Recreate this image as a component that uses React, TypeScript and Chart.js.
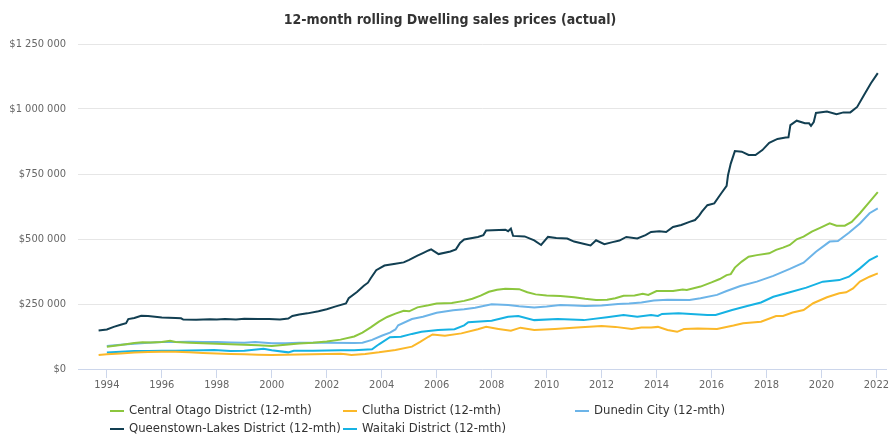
import React, { useEffect, useRef } from "react";
import { Chart, registerables } from "chart.js";

Chart.register(...registerables);

const FONT = '"Liberation Sans Narrow", "DejaVu Sans Condensed", Arial, sans-serif';

const chartTitle = "12-month rolling Dwelling sales prices (actual)";

const seriesNames = [
  "Central Otago District (12-mth)",
  "Clutha District (12-mth)",
  "Dunedin City (12-mth)",
  "Queenstown-Lakes District (12-mth)",
  "Waitaki District (12-mth)",
];
const seriesColors = ["#8cc63e", "#fbb829", "#6cb4e8", "#123f52", "#16b2e3"];

const xTickYears = [1994, 1996, 1998, 2000, 2002, 2004, 2006, 2008, 2010, 2012, 2014, 2016, 2018, 2020, 2022];
const yTickValues = [0, 250000, 500000, 750000, 1000000, 1250000];

const centralOtago: [number, number][] = [
  [1994.0, 86000], [1994.5, 92000], [1995.0, 100000], [1995.3, 103000], [1995.6, 102000], [1996.0, 104000],
  [1996.3, 109000], [1996.5, 104000], [1997.0, 101000], [1997.5, 99000], [1998.0, 97000], [1998.5, 95000],
  [1999.0, 93000], [1999.5, 91000], [2000.0, 88000], [2000.5, 93000], [2001.0, 98000], [2001.5, 101000],
  [2002.0, 106000], [2002.5, 113000], [2003.0, 125000], [2003.3, 140000], [2003.6, 160000], [2003.9, 182000],
  [2004.2, 200000], [2004.5, 213000], [2004.8, 224000], [2005.0, 222000], [2005.3, 237000], [2005.7, 245000],
  [2006.0, 252000], [2006.55, 254000], [2007.0, 262000], [2007.3, 270000], [2007.6, 282000], [2007.9, 297000],
  [2008.2, 305000], [2008.5, 309000], [2009.0, 307000], [2009.3, 295000], [2009.6, 287000], [2010.0, 283000],
  [2010.5, 281000], [2011.0, 276000], [2011.4, 270000], [2011.8, 265000], [2012.2, 266000], [2012.5, 272000],
  [2012.8, 282000], [2013.2, 283000], [2013.5, 289000], [2013.7, 285000], [2014.0, 300000], [2014.6, 300000],
  [2014.95, 306000], [2015.1, 304000], [2015.6, 317000], [2016.0, 333000], [2016.3, 346000], [2016.55, 361000],
  [2016.7, 365000], [2016.85, 390000], [2017.1, 413000], [2017.35, 432000], [2017.65, 438000], [2018.1, 445000],
  [2018.35, 458000], [2018.6, 467000], [2018.85, 477000], [2019.1, 499000], [2019.35, 509000], [2019.65, 528000],
  [2019.95, 543000], [2020.3, 560000], [2020.55, 551000], [2020.85, 551000], [2021.1, 566000], [2021.4, 599000],
  [2021.75, 643000], [2022.05, 680000],
];

const clutha: [number, number][] = [
  [1993.7, 54000], [1994.0, 57000], [1994.5, 60000], [1995.0, 63000], [1995.5, 65000], [1996.0, 66000],
  [1996.5, 66000], [1997.0, 64000], [1997.5, 62000], [1998.0, 60000], [1998.5, 58000], [1999.0, 57000],
  [1999.5, 55000], [2000.0, 54000], [2000.5, 55000], [2001.0, 56000], [2001.5, 57000], [2002.0, 58000],
  [2002.5, 59000], [2002.7, 57000], [2002.9, 54000], [2003.4, 58000], [2003.9, 64000], [2004.5, 73000],
  [2005.1, 86000], [2005.4, 104000], [2005.7, 124000], [2005.85, 133000], [2006.3, 128000], [2006.9, 137000],
  [2007.5, 153000], [2007.8, 162000], [2008.25, 154000], [2008.7, 147000], [2009.05, 159000], [2009.55, 150000],
  [2010.3, 154000], [2011.1, 160000], [2012.0, 165000], [2012.5, 162000], [2013.1, 154000], [2013.45, 160000],
  [2013.8, 160000], [2014.05, 162000], [2014.4, 150000], [2014.75, 143000], [2015.0, 154000], [2015.5, 156000],
  [2016.2, 154000], [2016.8, 167000], [2017.15, 176000], [2017.8, 182000], [2018.35, 204000], [2018.6, 204000],
  [2018.95, 217000], [2019.35, 227000], [2019.7, 253000], [2020.2, 276000], [2020.65, 291000], [2020.9, 295000],
  [2021.15, 310000], [2021.4, 336000], [2021.75, 355000], [2022.05, 368000],
];

const dunedin: [number, number][] = [
  [1994.0, 88000], [1994.5, 93000], [1995.0, 97000], [1995.5, 101000], [1996.0, 104000], [1996.5, 104000],
  [1997.0, 105000], [1997.5, 104000], [1998.0, 104000], [1998.5, 102000], [1999.0, 101000], [1999.4, 104000],
  [2000.0, 99000], [2000.5, 99000], [2001.0, 101000], [2002.0, 101000], [2003.0, 100000], [2003.3, 101000],
  [2003.65, 112000], [2004.0, 128000], [2004.3, 140000], [2004.5, 152000], [2004.6, 168000], [2005.1, 192000],
  [2005.5, 201000], [2006.0, 216000], [2006.6, 226000], [2007.0, 230000], [2007.4, 236000], [2008.0, 249000],
  [2008.6, 246000], [2009.0, 241000], [2009.55, 237000], [2010.0, 240000], [2010.5, 246000], [2011.0, 244000],
  [2011.4, 242000], [2012.0, 244000], [2012.6, 250000], [2013.0, 252000], [2013.45, 256000], [2013.9, 263000],
  [2014.4, 266000], [2015.2, 265000], [2015.6, 272000], [2016.2, 285000], [2016.55, 300000], [2017.05, 319000],
  [2017.65, 336000], [2018.25, 358000], [2018.85, 385000], [2019.35, 409000], [2019.8, 451000], [2020.3, 490000],
  [2020.6, 492000], [2021.0, 524000], [2021.4, 560000], [2021.75, 599000], [2022.05, 618000],
];

const queenstownLakes: [number, number][] = [
  [1993.7, 148000], [1994.0, 152000], [1994.25, 162000], [1994.5, 170000], [1994.7, 176000], [1994.78, 192000],
  [1995.0, 196000], [1995.25, 205000], [1995.5, 204000], [1996.0, 198000], [1996.5, 196000], [1996.7, 195000],
  [1996.78, 190000], [1997.25, 189000], [1997.75, 191000], [1998.0, 190000], [1998.3, 192000], [1998.7, 190000],
  [1999.0, 193000], [1999.5, 192000], [1999.9, 192000], [2000.3, 190000], [2000.6, 194000], [2000.75, 204000],
  [2001.0, 210000], [2001.3, 214000], [2001.7, 222000], [2002.0, 230000], [2002.3, 240000], [2002.7, 252000],
  [2002.8, 272000], [2003.1, 296000], [2003.35, 320000], [2003.5, 332000], [2003.6, 349000], [2003.8, 380000],
  [2004.1, 398000], [2004.5, 405000], [2004.8, 410000], [2005.0, 420000], [2005.3, 436000], [2005.5, 446000],
  [2005.7, 456000], [2005.8, 460000], [2006.07, 442000], [2006.5, 452000], [2006.7, 460000], [2006.85, 485000],
  [2007.0, 498000], [2007.5, 508000], [2007.7, 515000], [2007.8, 533000], [2008.5, 536000], [2008.6, 530000],
  [2008.7, 540000], [2008.78, 512000], [2009.2, 510000], [2009.55, 495000], [2009.8, 477000], [2010.05, 508000],
  [2010.35, 504000], [2010.75, 502000], [2011.0, 490000], [2011.3, 483000], [2011.6, 475000], [2011.8, 495000],
  [2012.1, 480000], [2012.4, 488000], [2012.65, 494000], [2012.9, 508000], [2013.3, 502000], [2013.6, 515000],
  [2013.8, 527000], [2014.1, 530000], [2014.35, 527000], [2014.6, 546000], [2014.9, 554000], [2015.2, 566000],
  [2015.4, 573000], [2015.55, 590000], [2015.65, 605000], [2015.85, 630000], [2016.1, 637000], [2016.35, 675000],
  [2016.55, 704000], [2016.6, 745000], [2016.7, 790000], [2016.85, 838000], [2017.1, 836000], [2017.35, 823000],
  [2017.6, 823000], [2017.85, 842000], [2018.1, 870000], [2018.4, 885000], [2018.7, 890000], [2018.8, 891000],
  [2018.87, 938000], [2019.1, 955000], [2019.4, 945000], [2019.55, 945000], [2019.62, 935000], [2019.72, 950000],
  [2019.8, 985000], [2020.2, 990000], [2020.55, 980000], [2020.8, 987000], [2021.05, 987000], [2021.3, 1008000],
  [2021.55, 1054000], [2021.8, 1099000], [2022.05, 1138000],
];

const waitaki: [number, number][] = [
  [1994.0, 63000], [1994.5, 66000], [1995.0, 69000], [1995.5, 69000], [1996.0, 70000], [1996.5, 70000],
  [1997.0, 71000], [1997.5, 72000], [1997.9, 73000], [1998.5, 69000], [1999.0, 70000], [1999.7, 78000],
  [2000.0, 72000], [2000.6, 64000], [2000.8, 70000], [2001.5, 70000], [2002.5, 72000], [2003.0, 72000],
  [2003.65, 76000], [2003.9, 95000], [2004.3, 122000], [2004.7, 124000], [2005.1, 135000], [2005.45, 143000],
  [2006.05, 150000], [2006.65, 153000], [2007.0, 168000], [2007.15, 180000], [2008.0, 186000], [2008.6, 201000],
  [2008.97, 204000], [2009.55, 188000], [2010.4, 192000], [2011.35, 188000], [2012.2, 199000], [2012.8, 208000],
  [2013.3, 201000], [2013.8, 208000], [2014.05, 204000], [2014.2, 212000], [2014.8, 214000], [2015.85, 208000],
  [2016.15, 208000], [2016.75, 227000], [2017.3, 242000], [2017.8, 256000], [2018.25, 278000], [2018.85, 295000],
  [2019.45, 313000], [2020.05, 336000], [2020.65, 342000], [2021.0, 355000], [2021.4, 387000], [2021.75, 419000],
  [2022.05, 435000],
];

const seriesData = [centralOtago, clutha, dunedin, queenstownLakes, waitaki];

const X_MIN = 1992.95;
const X_MAX = 2022.37;

function formatDollars(v: number): string {
  const s = Math.round(v).toString().replace(/\B(?=(\d{3})+(?!\d))/g, " ");
  return "$" + s;
}

export default function App() {
  const ref = useRef<HTMLCanvasElement | null>(null);

  useEffect(() => {
    document.body.style.margin = "0";
    const canvas = ref.current;
    if (!canvas) return;

    const titleLegendPlugin = {
      id: "titleLegend",
      afterDraw(chart: any) {
        const ctx = chart.ctx;
        ctx.save();
        ctx.fillStyle = "#333333";
        ctx.font = `bold 14px ${FONT}`;
        ctx.textAlign = "center";
        ctx.textBaseline = "middle";
        ctx.fillText(chartTitle, 450, 20);

        const cols = [110, 343, 575];
        const rows = [411, 429];
        ctx.font = `13px ${FONT}`;
        ctx.textAlign = "left";
        seriesNames.forEach((name, i) => {
          const x = cols[i % 3];
          const y = rows[Math.floor(i / 3)];
          ctx.strokeStyle = seriesColors[i];
          ctx.lineWidth = 2;
          ctx.beginPath();
          ctx.moveTo(x, y);
          ctx.lineTo(x + 14, y);
          ctx.stroke();
          ctx.fillStyle = "#333333";
          ctx.fillText(name, x + 19, y);
        });
        ctx.restore();
      },
    };

    const chart = new Chart(canvas, {
      type: "line",
      data: {
        datasets: seriesNames.map((name, i) => ({
          label: name,
          data: seriesData[i].map(([x, y]) => ({ x, y })),
          borderColor: seriesColors[i],
          backgroundColor: seriesColors[i],
          borderWidth: 2,
          pointRadius: 0,
          tension: 0,
          fill: false,
        })),
      },
      options: {
        responsive: false,
        animation: false,
        layout: { padding: { top: 44, left: 0, right: 0, bottom: 0 } },
        plugins: {
          legend: { display: false },
          title: { display: false },
          tooltip: { enabled: false },
        },
        scales: {
          x: {
            type: "linear",
            min: X_MIN,
            max: X_MAX,
            afterBuildTicks: (scale: any) => {
              scale.ticks = xTickYears.map((v) => ({ value: v }));
            },
            afterFit: (scale: any) => {
              scale.height = 65;
            },
            grid: {
              drawOnChartArea: false,
              drawTicks: true,
              tickLength: 9,
              color: "#ccd6eb",
            },
            border: { display: true, color: "#ccd6eb" },
            ticks: {
              autoSkip: false,
              maxRotation: 0,
              padding: 1,
              color: "#666666",
              font: { family: FONT, size: 11 },
              callback: (v: any) => String(v),
            },
          },
          y: {
            min: 0,
            max: 1250000,
            afterBuildTicks: (scale: any) => {
              scale.ticks = yTickValues.map((v) => ({ value: v }));
            },
            afterFit: (scale: any) => {
              scale.width = 78;
            },
            grid: { color: "#e6e6e6", drawTicks: false },
            border: { display: false },
            ticks: {
              padding: 12,
              color: "#666666",
              font: { family: FONT, size: 11 },
              callback: (v: any) => formatDollars(Number(v)),
            },
          },
        },
      },
      plugins: [titleLegendPlugin],
    } as any);

    return () => chart.destroy();
  }, []);

  return (
    <div style={{ width: 890, height: 434, background: "#ffffff" }}>
      <canvas ref={ref} width={890} height={434} style={{ display: "block" }} />
    </div>
  );
}
